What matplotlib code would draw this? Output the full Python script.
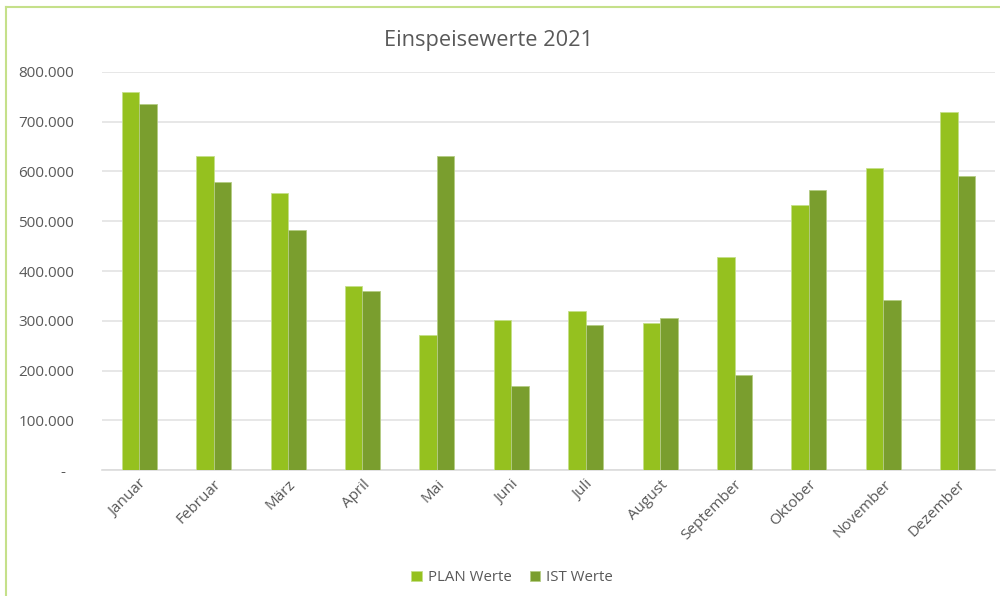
import matplotlib.pyplot as plt
from matplotlib.ticker import FuncFormatter
from matplotlib.lines import Line2D
import numpy as np

# Einspeisewerte 2021 - PLAN vs IST per month
monate = ["Januar", "Februar", "März", "April", "Mai", "Juni", "Juli",
          "August", "September", "Oktober", "November", "Dezember"]
plan_werte = [760000, 631000, 556000, 370000, 271000, 301000, 320000,
              296000, 429000, 533000, 608000, 719000]
ist_werte = [736000, 579000, 482000, 360000, 631000, 169000, 291000,
             305000, 190000, 563000, 341000, 590000]
y_ticks = [0, 100000, 200000, 300000, 400000, 500000, 600000, 700000, 800000]

plt.rcParams['font.family'] = ['Open Sans', 'DejaVu Sans']
grau = '#595959'
hell = '#95C11F'
dunkel = '#7A9E2E'

fig = plt.figure(figsize=(10, 5.96), dpi=100)
ax = fig.add_axes([0.102, 0.2114, 0.893, 0.6678])

x = np.arange(len(monate))
w = 0.235
ax.bar(x - w / 2, plan_werte, w, color=hell, edgecolor='#C5E08A', linewidth=0.6,
       label='PLAN Werte', zorder=3)
ax.bar(x + w / 2, ist_werte, w, color=dunkel, edgecolor='#B4CC84', linewidth=0.6,
       label='IST Werte', zorder=3)

def fmt(v, pos):
    if v == 0:
        return '-  '
    return f'{int(v):,}'.replace(',', '.')

ax.set_ylim(0, 800000)
ax.set_xlim(-0.5, len(monate) - 0.5)
ax.set_yticks(y_ticks)
ax.yaxis.set_major_formatter(FuncFormatter(fmt))
ax.grid(axis='y', color='#E3E3E3', linewidth=1.2, zorder=0)
for s in ['top', 'right', 'left']:
    ax.spines[s].set_visible(False)
ax.spines['bottom'].set_color('#DCDCDC')
ax.spines['bottom'].set_linewidth(1.2)
ax.tick_params(length=0, colors=grau, labelsize=11)
ax.tick_params(axis='y', pad=20)
ax.tick_params(axis='x', pad=5)
ax.set_xticks(x)
ax.set_xticklabels(monate, rotation=45, ha='right', rotation_mode='anchor')

fig.text(0.488, 0.932, 'Einspeisewerte 2021', ha='center', va='center',
         fontsize=15.7, color=grau)

leg = fig.legend(loc='center', bbox_to_anchor=(0.512, 0.031), ncol=2, frameon=False,
                 fontsize=10.8, handlelength=0.7, handleheight=0.7, handletextpad=0.4,
                 columnspacing=1.2)
for t in leg.get_texts():
    t.set_color(grau)

# chart area border (only top and left visible)
fig.add_artist(Line2D([0.006, 1.0], [0.988, 0.988], transform=fig.transFigure,
                      color='#C5E08A', linewidth=1.5))
fig.add_artist(Line2D([0.006, 0.006], [0.0, 0.988], transform=fig.transFigure,
                      color='#C5E08A', linewidth=1.5))

fig.savefig('out.png', dpi=100)
